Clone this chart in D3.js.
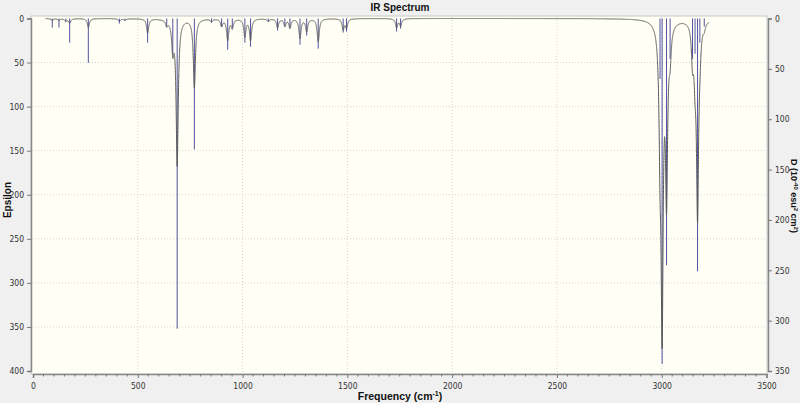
<!DOCTYPE html>
<html>
<head>
<meta charset="utf-8">
<script src="https://cdn.jsdelivr.net/npm/d3@7"></script>
<style>
  body { margin: 0; background: #f0f0f0; }
  svg { display: block; font-family: "Liberation Sans", Arial, sans-serif; }
  .tick text { fill: #333; font-size: 8.5px; font-family: "Liberation Sans Narrow", "DejaVu Sans Condensed", sans-serif; }
</style>
</head>
<body>
<div id="container"></div>
<script>
// vibrational modes: frequency (cm-1), stick height (D units), curve amplitude (epsilon)
var freqs =  [92, 124, 157, 175, 264, 412, 439, 547, 638, 667, 688, 770, 852, 900, 929, 951,
              1011, 1038, 1123, 1167, 1202, 1226, 1274, 1306, 1361, 1480, 1496, 1735, 1754,
              2992, 3002, 3023, 3040, 3147, 3159, 3171, 3182, 3203];
var sticks = [9, 9, 3, 24, 44, 5, 2, 24, 8, 35, 308, 130, 4, 8, 31, 9,
              24, 28, 3, 12, 8, 10, 26, 17, 30, 14, 13, 13, 10,
              60, 343, 245, 40, 40, 35, 251, 24, 8];
var epsAmp = [2, 2, 3, 5, 10, 3, 2, 16, 6, 32, 165, 78, 3, 8, 24, 10,
              20, 24, 3, 10, 8, 10, 22, 14, 26, 12, 10, 10, 8,
              110, 330, 190, 30, 40, 45, 215, 20, 6];
var halfWidth = 6;
var specRange = [60, 3225];

var xTicks = [0, 500, 1000, 1500, 2000, 2500, 3000, 3500];
var epsTicks = [0, 50, 100, 150, 200, 250, 300, 350, 400];
var dTicks = [0, 50, 100, 150, 200, 250, 300, 350];

var width = 800,
    height = 403;

var x = d3.scaleLinear().domain([0, 3500]).range([33, 766.5]);
var yEps = d3.scaleLinear().domain([0, 400]).range([18.5, 371]);
var yD = d3.scaleLinear().domain([0, 350]).range([18.5, 371]);

var svg = d3.select("#container").append("svg")
    .attr("width", width)
    .attr("height", height);

// plot area
svg.append("rect")
    .attr("x", 31).attr("y", 16)
    .attr("width", 736).attr("height", 358)
    .attr("fill", "#fffff5")
    .attr("stroke", "#c8c8c8");

// grid
svg.append("g").selectAll("line")
    .data(xTicks.slice(1, -1))
    .enter().append("line")
    .attr("x1", function (d) { return x(d); })
    .attr("x2", function (d) { return x(d); })
    .attr("y1", 17).attr("y2", 373)
    .attr("stroke", "#d4d4d4")
    .attr("stroke-dasharray", "1,2");

svg.append("g").selectAll("line")
    .data(epsTicks.slice(1, -1))
    .enter().append("line")
    .attr("x1", 32).attr("x2", 766)
    .attr("y1", function (d) { return yEps(d); })
    .attr("y2", function (d) { return yEps(d); })
    .attr("stroke", "#d4d4d4")
    .attr("stroke-dasharray", "1,2");

// sticks
svg.append("g").selectAll("line")
    .data(freqs)
    .enter().append("line")
    .attr("x1", function (d) { return x(d); })
    .attr("x2", function (d) { return x(d); })
    .attr("y1", yD(0))
    .attr("y2", function (d, i) { return yD(sticks[i]); })
    .attr("stroke", "#5252a0")
    .attr("stroke-width", 1);

// broadened spectrum (lorentzian sum over the modes)
var curve = [];
for (var f = specRange[0]; f <= specRange[1]; f += 0.25) {
    var e = 0;
    freqs.forEach(function (fi, i) {
        var dx = f - fi;
        e += epsAmp[i] * halfWidth * halfWidth / (halfWidth * halfWidth + dx * dx);
    });
    curve.push([f, e]);
}

svg.append("path")
    .datum(curve)
    .attr("fill", "none")
    .attr("stroke", "#5a5a5a")
    .attr("stroke-width", 1)
    .attr("d", d3.line()
        .x(function (d) { return x(d[0]); })
        .y(function (d) { return yEps(d[1]); }));

// axes
var left = svg.append("g")
    .attr("transform", "translate(31,0)")
    .call(d3.axisLeft(yEps).tickValues(epsTicks).tickFormat(d3.format("d")).tickSize(4).tickPadding(3));

var bottom = svg.append("g")
    .attr("transform", "translate(0,374)")
    .call(d3.axisBottom(x).tickValues(xTicks).tickFormat(d3.format("d")).tickSize(4).tickPadding(5));

svg.append("g")
    .attr("transform", "translate(0,374)")
    .selectAll("line")
    .data(d3.range(50, 3500, 50).filter(function (d) { return d % 500 !== 0; }))
    .enter().append("line")
    .attr("x1", function (d) { return x(d); })
    .attr("x2", function (d) { return x(d); })
    .attr("y1", 0).attr("y2", 2.5)
    .attr("stroke", "#777");

var right = svg.append("g")
    .attr("transform", "translate(768,0)")
    .call(d3.axisRight(yD).tickValues(dTicks).tickFormat(d3.format("d")).tickSize(4).tickPadding(3));

[left, bottom, right].forEach(function (a) {
    a.select(".domain").attr("stroke", "#888").attr("stroke-width", 1.5);
    a.selectAll(".tick line").attr("stroke", "#777");
});

// titles
svg.append("text")
    .attr("x", 400).attr("y", 11)
    .attr("text-anchor", "middle")
    .attr("font-size", "10px")
    .attr("font-weight", "bold")
    .attr("fill", "#111")
    .text("IR Spectrum");

var xl = svg.append("text")
    .attr("x", 400).attr("y", 400)
    .attr("text-anchor", "middle")
    .attr("font-size", "10.5px")
    .attr("font-weight", "bold")
    .attr("fill", "#111");
xl.append("tspan").text("Frequency (cm");
xl.append("tspan").attr("font-size", "7px").attr("dy", -4).text("-1");
xl.append("tspan").attr("dy", 4).text(")");

svg.append("text")
    .attr("transform", "translate(11,200) rotate(-90)")
    .attr("text-anchor", "middle")
    .attr("font-size", "10px")
    .attr("font-weight", "bold")
    .attr("fill", "#111")
    .text("Epsilon");

var yl = svg.append("text")
    .attr("transform", "translate(790.5,196) rotate(90)")
    .attr("text-anchor", "middle")
    .attr("font-size", "9px")
    .attr("font-weight", "bold")
    .attr("fill", "#111");
yl.append("tspan").text("D (10");
yl.append("tspan").attr("font-size", "6px").attr("dy", -3).text("-40");
yl.append("tspan").attr("dy", 3).text(" esu");
yl.append("tspan").attr("font-size", "6px").attr("dy", -3).text("2");
yl.append("tspan").attr("dy", 3).text(" cm");
yl.append("tspan").attr("font-size", "6px").attr("dy", -3).text("2");
yl.append("tspan").attr("dy", 3).text(")");
</script>
</body>
</html>
